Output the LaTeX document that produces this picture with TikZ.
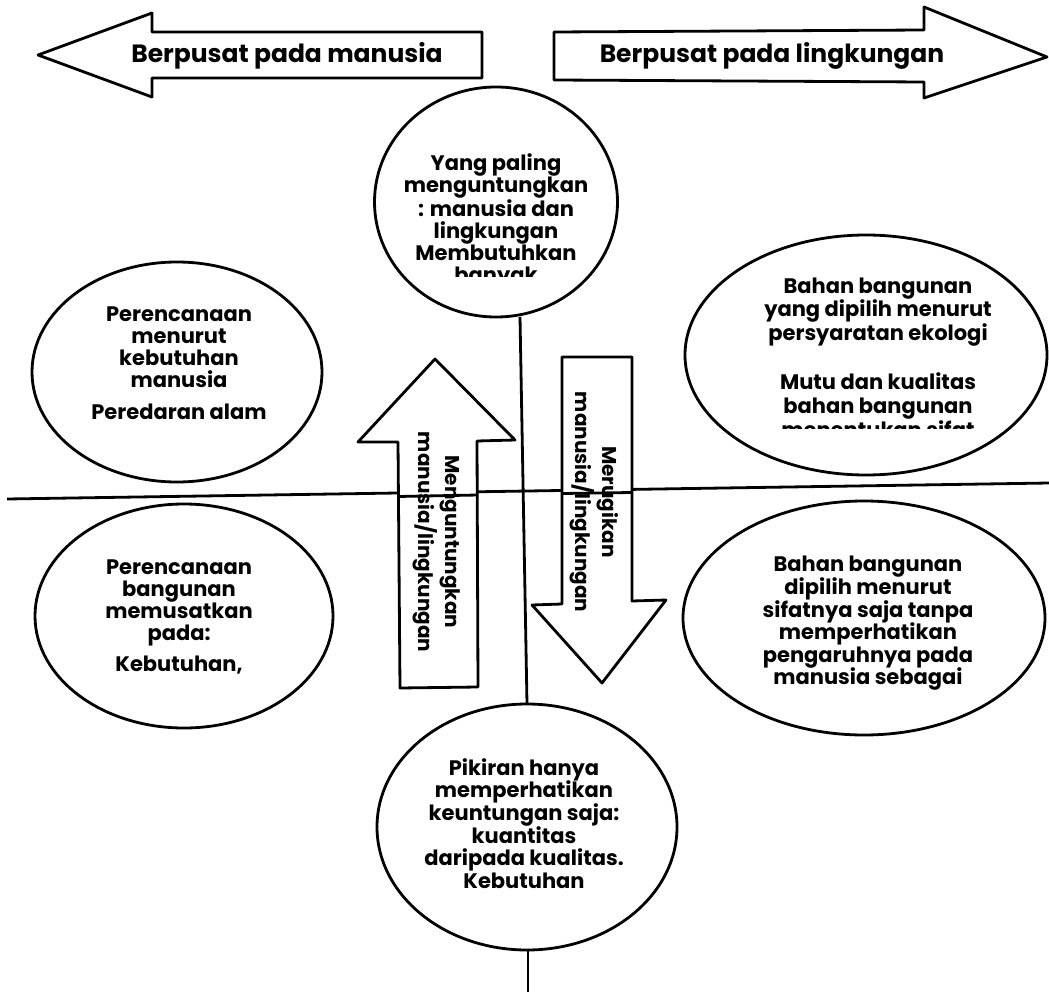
\documentclass[tikz,border=0pt]{standalone}
\usepackage{fontspec}
\setmainfont{Poppins}
\usetikzlibrary{shapes.geometric}
\begin{document}
\begin{tikzpicture}[x=1pt,y=-1pt,line width=2.8pt,line join=round,
  bub/.style={draw,ellipse,inner sep=0pt,line width=2.8pt},
  txt/.style={align=center,inner sep=0pt,font=\bfseries\fontsize{21}{22}\selectfont},
  rtxt/.style={align=center,inner sep=0pt,rotate=-90,font=\bfseries\fontsize{20}{27}\selectfont},
  htxt/.style={inner sep=0pt,font=\bfseries\fontsize{25}{28}\selectfont}]
\useasboundingbox (0,0) rectangle (1049,992);
\fill[white] (0,0) rectangle (1049,992);
% header arrows
\draw (38,55) -- (152,13) -- (152,32) -- (482,32) -- (482,78) -- (152,78) -- (152,97) -- cycle;
\draw (554,32) -- (924,30) -- (924,7) -- (1047,57) -- (924,98) -- (924,82) -- (554,80) -- cycle;
\node[htxt] (hl) at (287,56) {Berpusat pada manusia};
\node[htxt] (hr) at (772,56) {Berpusat pada lingkungan};
% axes
\coordinate (hL) at (7,499);
\coordinate (hR) at (1049,483);
\draw (hL) -- (hR);
% ellipses
\node[bub,minimum width=243pt,minimum height=230pt] (ctop) at (496,202) {};
\node[bub,minimum width=290pt,minimum height=220pt] (ctl) at (177,372) {};
\node[bub,minimum width=362pt,minimum height=240pt] (ctr) at (866,355) {};
\node[bub,minimum width=298pt,minimum height=224pt] (cbl) at (184,616) {};
\node[bub,minimum width=362pt,minimum height=234pt] (cbr) at (864,618) {};
\node[bub,minimum width=300pt,minimum height=246pt] (cbot) at (527,827) {};
\coordinate (v1) at (520,317);
\coordinate (v2) at (527,704);
\coordinate (v3) at (528,950);
\coordinate (v4) at (528,992);
\draw (v1) -- (v2);
\draw (v3) -- (v4);
% texts in ellipses
\begin{scope}
\clip (370,120) rectangle (625,277);
\node[txt] (ttop) at (496,221) {Yang paling\\menguntungkan\\: manusia dan\\lingkungan\\Membutuhkan\\banyak};
\end{scope}
\node[txt] (ttl1) at (179,347.5) {Perencanaan\\menurut\\kebutuhan\\manusia};
\node[txt] (ttl2) at (179,412) {Peredaran alam};
\node[txt] (ttr1) at (878,312) {Bahan bangunan\\yang dipilih menurut\\persyaratan ekologi};
\begin{scope}
\clip (690,350) rectangle (1045,428);
\node[txt,font=\bfseries\fontsize{21}{24}\selectfont] (ttr2) at (878,405) {Mutu dan kualitas\\bahan bangunan\\menentukan sifat};
\end{scope}
\node[txt] (tbl1) at (179,602.5) {Perencanaan\\bangunan\\memusatkan\\pada:};
\node[txt] (tbl2) at (179,665) {Kebutuhan,};
\node[txt,font=\bfseries\fontsize{21}{22.6}\selectfont] (tbr) at (868,623.5) {Bahan bangunan\\dipilih menurut\\sifatnya saja tanpa\\memperhatikan\\pengaruhnya pada\\manusia sebagai};
\node[txt,font=\bfseries\fontsize{21}{22.6}\selectfont] (tbot) at (524,823.5) {Pikiran hanya\\memperhatikan\\keuntungan saja:\\kuantitas\\daripada kualitas.\\Kebutuhan};
% middle arrows
\draw[fill=white] (435,359) -- (515,440) -- (477,441) -- (478,687) -- (400,688) -- (398,442) -- (358,442) -- cycle;
\draw[fill=white] (562,357) -- (632,357) -- (632,601) -- (666,600) -- (602,683) -- (532,605) -- (562,604) -- cycle;
\draw (398,496.5) -- (478,495);
\draw (562,493.5) -- (632,492.5);
\node[rtxt] (tup) at (437,542) {Menguntungkan\\manusia/lingkungan};
\begin{scope}
\clip (569,360) rectangle (660,640);
\node[rtxt] (tdn) at (594,502) {Merugikan\\manusia/lingkungan};
\end{scope}
\end{tikzpicture}
\end{document}
